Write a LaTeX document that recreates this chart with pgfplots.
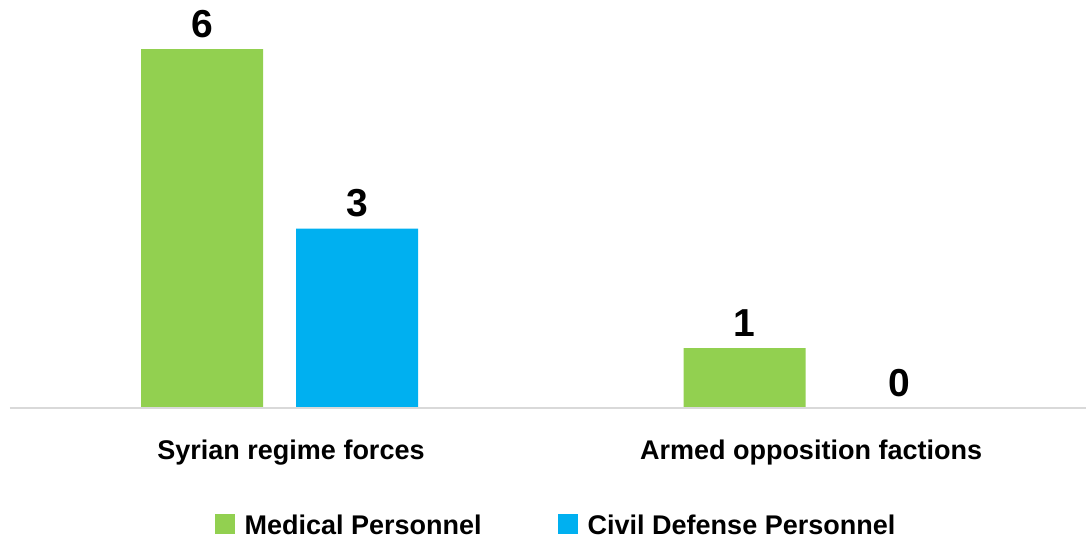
\documentclass[border=0pt]{standalone}
\usepackage{fontspec}
\setmainfont{Liberation Sans}
\usepackage{pgfplots}
\pgfplotsset{compat=1.18}
\definecolor{medgreen}{HTML}{92D050}
\definecolor{cdblue}{HTML}{00B0F0}
\definecolor{axisgray}{HTML}{D9D9D9}
\begin{document}
\begin{tikzpicture}
\useasboundingbox (-5pt,-66.5pt) rectangle (538pt,204pt);
\begin{axis}[
  at={(0,0)}, anchor=south west,
  scale only axis,
  width=538pt, height=204pt,
  xmin=-0.4968, xmax=1.4866,
  ymin=0, ymax=6.82,
  enlargelimits=false,
  clip=false,
  axis on top,
  ybar=16.5pt,
  bar width=61pt,
  hide y axis,
  axis x line=bottom,
  x axis line style={-, draw=axisgray, line width=1pt},
  xtick={0,1},
  xticklabels={{\hspace*{11.5pt}Syrian regime forces}, {Armed opposition factions\hspace*{11pt}}},
  xtick style={draw=none},
  major tick length=0pt,
  xticklabel style={font=\fontsize{13.5pt}{16pt}\selectfont\bfseries, inner sep=0pt, anchor=north, yshift=-16pt},
  /pgf/number format/assume math mode=true,
  nodes near coords,
  every node near coord/.append style={font=\fontsize{19.5pt}{22pt}\selectfont\bfseries, anchor=south, inner sep=0pt, yshift=5.5pt, text=black},
  legend style={draw=none, fill=none, inner sep=0pt,
    at={(0.5065,-0.2892)}, anchor=center,
    legend columns=2,
    font=\fontsize{13.5pt}{16pt}\selectfont\bfseries,
    nodes={inner sep=0pt},
    /tikz/every odd column/.append style={column sep=5pt},
    /tikz/every even column/.append style={column sep=38pt}},
  legend image code/.code={\fill (0pt,-3.75pt) rectangle (10pt,6.25pt);},
]
\addplot[fill=medgreen, draw=none] coordinates {(0,6) (1,1)};
\addplot[fill=cdblue, draw=none] coordinates {(0,3) (1,0)};
\legend{Medical Personnel, Civil Defense Personnel}
\end{axis}
\end{tikzpicture}
\end{document}
